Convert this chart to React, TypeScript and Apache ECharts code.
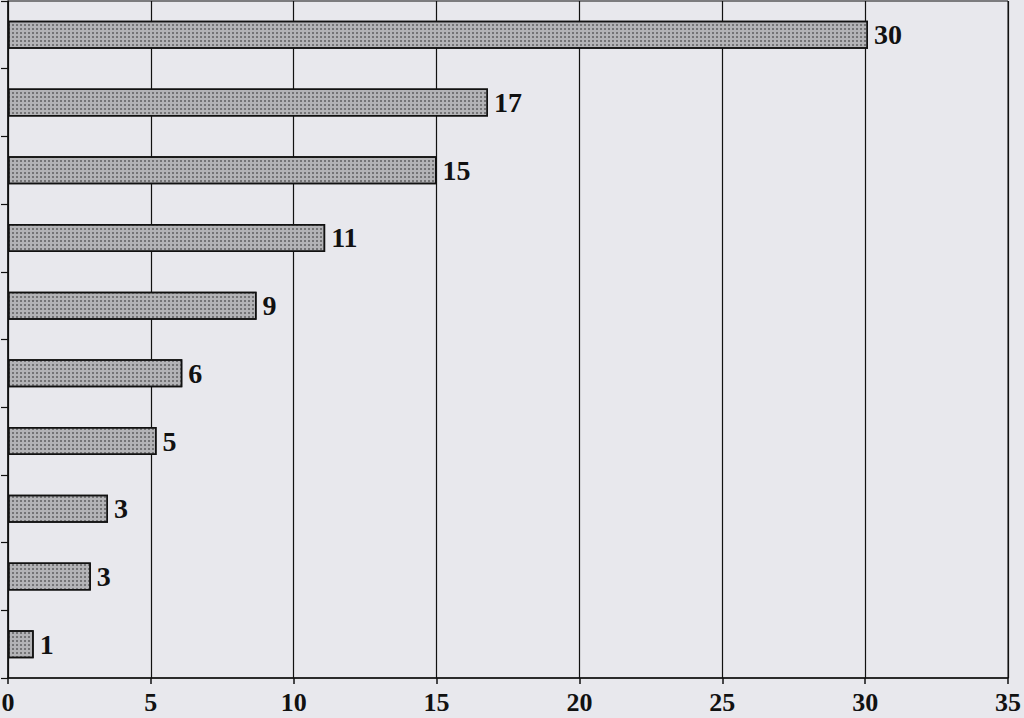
import React, { useEffect, useRef } from "react";
import * as echarts from "echarts";

const categories = ["c1", "c2", "c3", "c4", "c5", "c6", "c7", "c8", "c9", "c10"];
const values = [30.1, 16.8, 15.0, 11.1, 8.7, 6.1, 5.2, 3.5, 2.9, 0.9];
const barLabels = ["30", "17", "15", "11", "9", "6", "5", "3", "3", "1"];
const xTicks = [0, 5, 10, 15, 20, 25, 30, 35];

export default function App() {
  const ref = useRef<HTMLDivElement>(null);
  useEffect(() => {
    if (!ref.current) return;
    const chart = echarts.init(ref.current, undefined, { renderer: "svg" });
    const serif = "'Liberation Serif', 'Times New Roman', serif";
    chart.setOption({
      animation: false,
      backgroundColor: "#e8e8ed",
      grid: {
        left: 8,
        right: 16,
        top: 1,
        bottom: 40,
        containLabel: false,
        outerBoundsMode: "none",
        show: true,
        borderColor: "#111",
        borderWidth: 1,
        backgroundColor: "transparent",
      },
      xAxis: {
        type: "value",
        min: xTicks[0],
        max: xTicks[xTicks.length - 1],
        interval: 5,
        axisLine: { show: true, lineStyle: { color: "#111", width: 1.5 } },
        axisTick: { show: true, length: 6, lineStyle: { color: "#111", width: 1.5 } },
        splitLine: { show: true, lineStyle: { color: "#111", width: 1.2 } },
        axisLabel: {
          margin: 11,
          fontSize: 26,
          lineHeight: 26,
          fontWeight: "bold",
          fontFamily: serif,
          color: "#111",
        },
      },
      yAxis: {
        type: "category",
        data: categories,
        inverse: true,
        axisLine: { show: true, lineStyle: { color: "#111", width: 1.5 } },
        axisTick: { show: true, length: 7, lineStyle: { color: "#111", width: 1.2 } },
        axisLabel: { show: false },
        splitLine: { show: false },
      },
      series: [
        {
          type: "bar",
          data: values,
          barWidth: 28,
          itemStyle: {
            color: "#b3b3b6",
            borderColor: "#111",
            borderWidth: 1.5,
            decal: {
              symbol: "rect",
              symbolSize: 1,
              color: "rgba(40,40,40,0.45)",
              dashArrayX: [2, 2],
              dashArrayY: [2, 2],
              rotation: 0,
            },
          },
          label: {
            show: true,
            position: "right",
            distance: 6,
            fontSize: 28,
            fontWeight: "bold",
            fontFamily: serif,
            color: "#111",
            formatter: (p: any) => barLabels[p.dataIndex],
          },
        },
      ],
    });
    return () => chart.dispose();
  }, []);
  return (
    <div
      ref={ref}
      style={{ position: "fixed", left: 0, top: 0, width: 1024, height: 718 }}
    />
  );
}
